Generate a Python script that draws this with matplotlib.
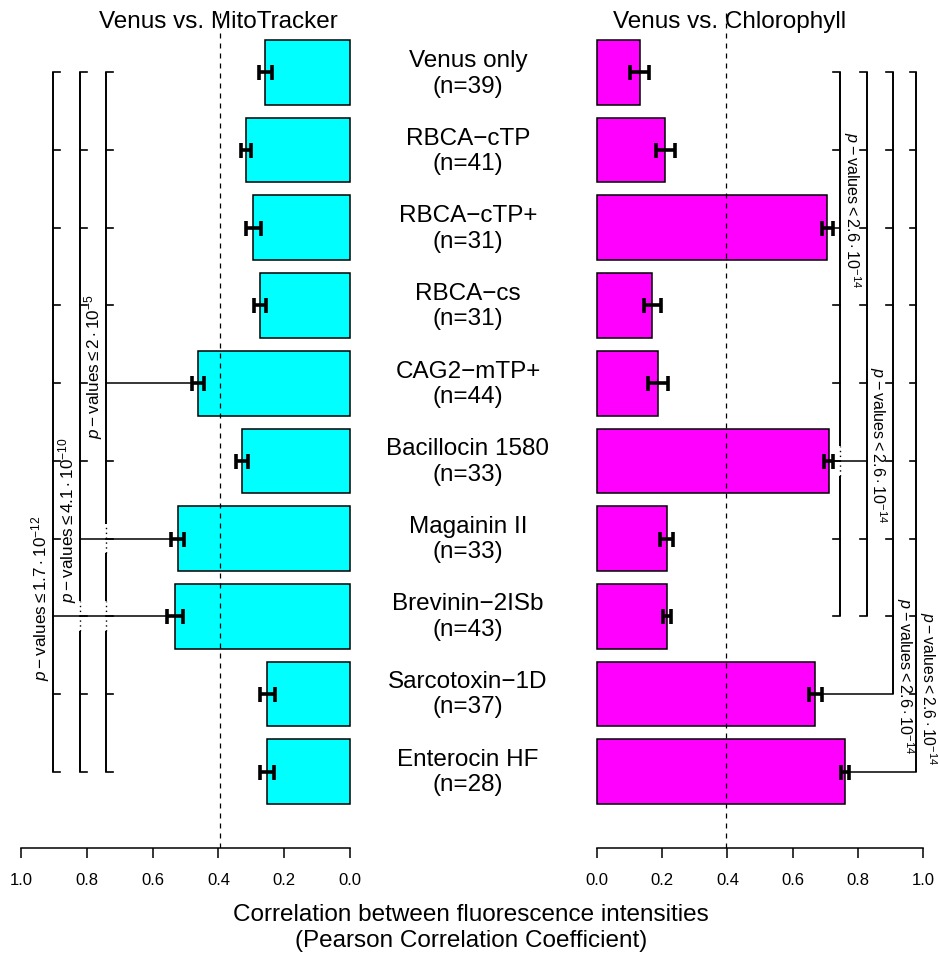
import matplotlib
matplotlib.use("Agg")
import matplotlib.pyplot as plt

plt.rcParams['font.family'] = ['Liberation Sans', 'DejaVu Sans']
plt.rcParams['mathtext.fontset'] = 'custom'
plt.rcParams['mathtext.rm'] = 'Liberation Sans'
plt.rcParams['mathtext.it'] = 'Liberation Sans:italic'
plt.rcParams['mathtext.bf'] = 'Liberation Sans:bold'

# ---------------- data ----------------
categories = ["Venus only", "RBCA\u2212cTP", "RBCA\u2212cTP+", "RBCA\u2212cs", "CAG2\u2212mTP+",
              "Bacillocin 1580", "Magainin II", "Brevinin\u22122ISb", "Sarcotoxin\u22121D", "Enterocin HF"]
n_values = [39, 41, 31, 31, 44, 33, 33, 43, 37, 28]
mito_mean = [0.258, 0.316, 0.294, 0.273, 0.461, 0.329, 0.524, 0.531, 0.251, 0.253]
mito_err = [0.020, 0.014, 0.023, 0.019, 0.018, 0.018, 0.019, 0.024, 0.024, 0.021]
chl_mean = [0.131, 0.210, 0.707, 0.170, 0.188, 0.711, 0.214, 0.215, 0.670, 0.760]
chl_err = [0.029, 0.030, 0.017, 0.026, 0.031, 0.014, 0.020, 0.013, 0.021, 0.012]
threshold = 0.395
left_ticks = [1.0, 0.8, 0.6, 0.4, 0.2, 0.0]
right_ticks = [0.0, 0.2, 0.4, 0.6, 0.8, 1.0]
tick_labels_left = ["1.0", "0.8", "0.6", "0.4", "0.2", "0.0"]
tick_labels_right = ["0.0", "0.2", "0.4", "0.6", "0.8", "1.0"]
title_left = "Venus vs. MitoTracker"
title_right = "Venus vs. Chlorophyll"
xlabel_lines = ["Correlation between fluorescence intensities", "(Pearson Correlation Coefficient)"]

# significance brackets: (first row, last row, connected row, label)
left_sig = [(0, 9, 4, r"$p-\mathrm{values}\leq2\cdot10^{-5}$"),
            (0, 9, 6, r"$p-\mathrm{values}\leq4.1\cdot10^{-10}$"),
            (0, 9, 7, r"$p-\mathrm{values}\leq1.7\cdot10^{-12}$")]
right_sig = [(0, 7, 2, r"$p-\mathrm{values}<2.6\cdot10^{-14}$"),
             (0, 7, 5, r"$p-\mathrm{values}<2.6\cdot10^{-14}$"),
             (0, 8, 8, r"$p-\mathrm{values}<2.6\cdot10^{-14}$"),
             (0, 9, 9, r"$p-\mathrm{values}<2.6\cdot10^{-14}$")]

# ---------------- layout ----------------
W, H = 939, 959
fig = plt.figure(figsize=(W / 100, H / 100), dpi=100)


def px_axes(x0, x1, ytop, ybot):
    return fig.add_axes([x0 / W, 1 - ybot / H, (x1 - x0) / W, (ybot - ytop) / H])


axL = px_axes(7.84, 363.16, 9, 848)
axR = px_axes(584, 936, 9, 848)

N = len(categories)
ypos = [0.7 + 1.2 * (N - 1 - i) for i in range(N)]

left_x = [0.742, 0.821, 0.903]
left_text_y = [6.95, 4.58, 3.38]
left_gaps = [[6, 7], [7], []]
left_fs = [12.3, 12.3, 12.3]
right_x = [0.745, 0.827, 0.909, 0.980]
right_text_y = [9.37, 5.74, 2.17, 1.985]
right_gaps = [[5], [], [], []]
right_fs = [11.6, 11.6, 11.6, 11.3]
TICK = 0.021
GAP = 0.23


def setup(ax, xlim, ticks, labels):
    ax.set_xlim(*xlim)
    ax.set_ylim(-0.48, 12.48)
    for s in ['left', 'right', 'top']:
        ax.spines[s].set_visible(False)
    ax.spines['bottom'].set_bounds(0, 1)
    ax.spines['bottom'].set_linewidth(1.1)
    ax.set_yticks([])
    ax.set_xticks(ticks)
    ax.set_xticklabels(labels, fontsize=12)
    ax.tick_params(axis='x', direction='out', length=7, width=1.1, pad=11)
    ax.patch.set_alpha(0)


def bars(ax, mean, err, color):
    ax.barh(ypos, mean, height=1.0, color=color, edgecolor='black', linewidth=1.1, zorder=2)
    ax.errorbar(mean, ypos, xerr=err, fmt='none', ecolor='black', elinewidth=2.6,
                capsize=5.4, capthick=2.6, zorder=3)
    ax.axvline(threshold, color='black', linestyle=(0, (4, 4)), linewidth=0.9, zorder=4)


def bracket(ax, x, spec, gaps, ty, fs, mean, err, side):
    r0, r1, rc, label = spec
    ytop, ybot = ypos[r0], ypos[r1]
    cuts = sorted([ypos[g] for g in gaps])
    cur = ybot
    for gy in cuts:
        ax.plot([x, x], [cur, gy - GAP], color='black', lw=1.4, solid_capstyle='butt')
        ax.plot([x, x], [gy - GAP, gy + GAP], color='black', lw=1.0, linestyle=(0, (1, 2.5)))
        cur = gy + GAP
    ax.plot([x, x], [cur, ytop], color='black', lw=1.4, solid_capstyle='butt')
    for r in range(r0, r1 + 1):
        if r == rc:
            ax.plot([x, mean[r] + err[r]], [ypos[r], ypos[r]], color='black', lw=1.1)
        else:
            ax.plot([x, x - TICK], [ypos[r], ypos[r]], color='black', lw=1.2)
    if side == 'left':
        ax.text(x + 0.004, ty, label, rotation=90, ha='right', va='center', fontsize=fs)
    else:
        ax.text(x + 0.002, ty, label, rotation=270, ha='left', va='center', fontsize=fs)


setup(axL, (1.04, -0.04), left_ticks, tick_labels_left)
setup(axR, (-0.04, 1.04), right_ticks, tick_labels_right)
bars(axL, mito_mean, mito_err, '#00FFFF')
bars(axR, chl_mean, chl_err, '#FF00FF')

for x, spec, g, ty, fs in zip(left_x, left_sig, left_gaps, left_text_y, left_fs):
    bracket(axL, x, spec, g, ty, fs, mito_mean, mito_err, 'left')
for x, spec, g, ty, fs in zip(right_x, right_sig, right_gaps, right_text_y, right_fs):
    bracket(axR, x, spec, g, ty, fs, chl_mean, chl_err, 'right')

# category labels in the middle
for i, (c, n) in enumerate(zip(categories, n_values)):
    ypx = 74 + 77.6 * i
    fig.text(468 / W, 1 - ypx / H, f"{c}\n(n={n})", ha='center', va='center',
             fontsize=17.5, linespacing=1.2)

fig.text(218 / W, 1 - 22 / H, title_left, ha='center', va='center', fontsize=17.5)
fig.text(729.5 / W, 1 - 22 / H, title_right, ha='center', va='center', fontsize=17.5)
fig.text(471 / W, 1 - 915 / H, xlabel_lines[0], ha='center', va='center', fontsize=17.5)
fig.text(471 / W, 1 - 941 / H, xlabel_lines[1], ha='center', va='center', fontsize=17.5)

fig.savefig("out.png", dpi=100)
